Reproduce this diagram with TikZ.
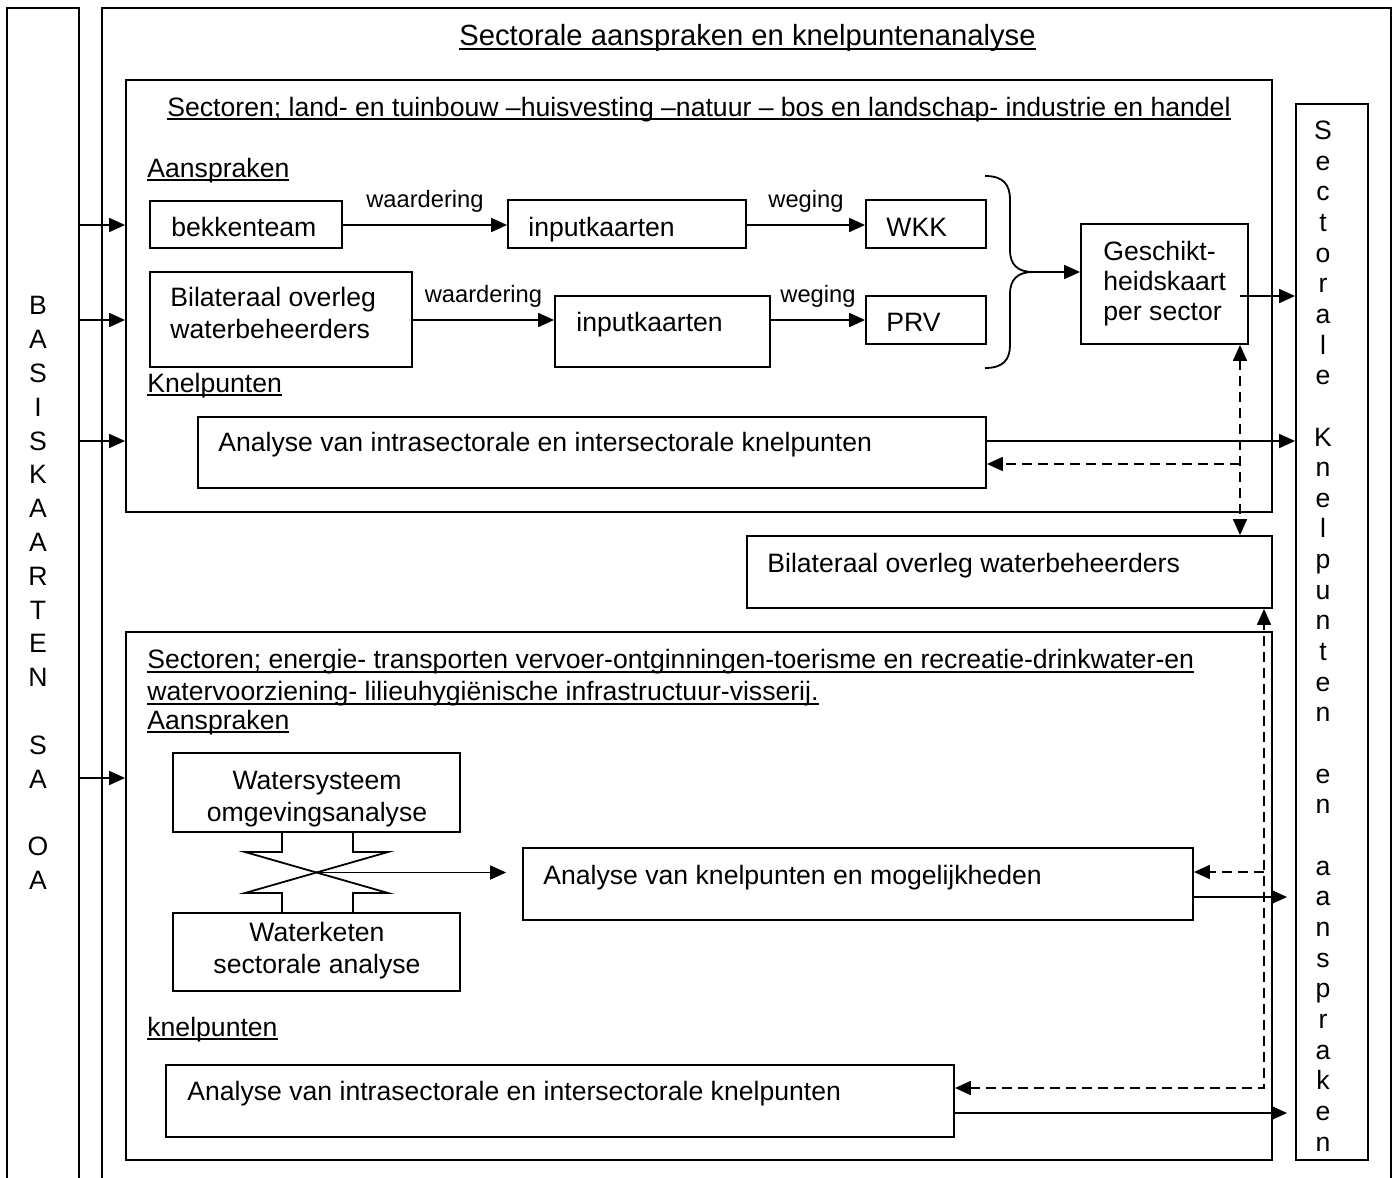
\documentclass[tikz,border=0pt]{standalone}
\usepackage{fontspec}
\setmainfont{Liberation Sans}
\usetikzlibrary{arrows.meta, fit, calc}
\newcommand\undl[1]{\setbox0=\hbox{#1}\rlap{\rule[-2pt]{\wd0}{0.8pt}}\box0}

\begin{document}
\begin{tikzpicture}[x=0.5pt, y=-0.5pt,
    >={Triangle[length=8pt, width=7pt]},
    box/.style={draw, line width=0.9pt, inner sep=0pt},
    txt/.style={font=\fontsize{13.3}{16}\selectfont, inner sep=0pt, align=left},
    ttl/.style={font=\fontsize{14.6}{17}\selectfont, inner sep=0pt},
    lab/.style={font=\fontsize{11.85}{14}\selectfont, inner sep=0pt},
    col/.style={font=\fontsize{13.3}{#1}\selectfont, inner sep=0pt, align=center},
    arr/.style={->, line width=0.9pt},
    darr/.style={->, line width=0.9pt, dash pattern=on 5pt off 3pt},
    stroke/.style={line width=0.9pt}
  ]
  \useasboundingbox (0,0) rectangle (1393,1178);

  % rows of the connectors
  \coordinate (r1) at (0,225);
  \coordinate (r2) at (0,296);
  \coordinate (r3) at (0,320);
  \coordinate (r4) at (0,441);
  \coordinate (r5) at (0,464);
  \coordinate (r6) at (0,778);
  \coordinate (r7) at (0,872);
  \coordinate (r8) at (0,897);
  \coordinate (r9) at (0,1088);
  \coordinate (r10) at (0,1113);
  \coordinate (dx1) at (1240,0);
  \coordinate (dx2) at (1264,0);

  % frames, open at the bottom
  \node[box, fit={(7,8) (79,1200)}] (basis) {};
  \node[box, fit={(102,8) (1391,1200)}] (frame) {};
  \node[box, fit={(126,80) (1272,512)}] (sec1) {};
  \node[box, fit={(126,632) (1272,1160)}] (sec2) {};
  \node[box, fit={(1296,104) (1368,1160)}] (sak) {};

  \node[col=16.9] (basist) at (38,593) {B\\A\\S\\I\\S\\K\\A\\A\\R\\T\\E\\N\\~\\S\\A\\~\\O\\A};
  \node[col=15.33] (sakt) at (1323,636) {S\\e\\c\\t\\o\\r\\a\\l\\e\\~\\K\\n\\e\\l\\p\\u\\n\\t\\e\\n\\~\\e\\n\\~\\a\\a\\n\\s\\p\\r\\a\\k\\e\\n};

  \node[ttl, anchor=base] (title) at (747.5,46) {\undl{Sectorale aanspraken en knelpuntenanalyse}};

  % upper sectors
  \node[txt, anchor=base west] (sec1t) at (167,116) {\undl{Sectoren; land- en tuinbouw –huisvesting –natuur – bos en landschap- industrie en handel}};
  \node[txt, anchor=base west] (asp1) at (147,177) {\undl{Aanspraken}};

  \node[box, fit={(150,201) (342,248)}] (bek) {};
  \node[txt, anchor=base west] (bekt) at (171,236) {bekkenteam};
  \node[box, fit={(508,200) (746,248)}] (ink1) {};
  \node[txt, anchor=base west] (ink1t) at (528,236) {inputkaarten};
  \node[box, fit={(866,200) (986,248)}] (wkk) {};
  \node[txt, anchor=base west] (wkkt) at (886,236) {WKK};

  \node[box, fit={(150,272) (412,367)}] (bil1) {};
  \node[txt, anchor=west] (bil1t) at (170,313) {Bilateraal overleg\\waterbeheerders};
  \node[box, fit={(555,296) (770,367)}] (ink2) {};
  \node[txt, anchor=base west] (ink2t) at (576,331) {inputkaarten};
  \node[box, fit={(866,296) (986,344)}] (prv) {};
  \node[txt, anchor=base west] (prvt) at (886,331) {PRV};

  \node[box, fit={(1081,224) (1248,344)}] (gesch) {};
  \node[txt, anchor=west, font=\fontsize{13.3}{15}\selectfont] (gescht) at (1103,284) {Geschikt-\\heidskaart\\per sector};

  \node[txt, anchor=base west] (knp1) at (147,392) {\undl{Knelpunten}};
  \node[box, fit={(198,417) (986,488)}] (ana1) {};
  \node[txt, anchor=base west] (ana1t) at (218,451) {Analyse van intrasectorale en intersectorale knelpunten};

  \node[box, fit={(747,536) (1272,608)}] (bil2) {};
  \node[txt, anchor=base west] (bil2t) at (767,572) {Bilateraal overleg waterbeheerders};

  % lower sectors
  \node[txt, anchor=west] (sec2t) at (147,678) {\undl{Sectoren; energie- transporten vervoer-ontginningen-toerisme en recreatie-drinkwater-en}\\\undl{watervoorziening- lilieuhygiënische infrastructuur-visserij.}};
  \node[txt, anchor=base west] (asp2) at (147,729) {\undl{Aanspraken}};

  \node[box, fit={(173,753) (460,832)}] (wsys) {};
  \node[txt, align=center] (wsyst) at (317,799) {Watersysteem\\omgevingsanalyse};
  \node[box, fit={(173,913) (460,991)}] (wket) {};
  \node[txt, align=center] (wkett) at (317,951) {Waterketen\\sectorale analyse};

  \node[box, fit={(523,848) (1193,920)}] (ana2) {};
  \node[txt, anchor=base west] (ana2t) at (543,884) {Analyse van knelpunten en mogelijkheden};

  \node[txt, anchor=base west] (knp2) at (147,1036) {\undl{knelpunten}};
  \node[box, fit={(166,1065) (954,1137)}] (ana3) {};
  \node[txt, anchor=base west] (ana3t) at (187,1100) {Analyse van intrasectorale en intersectorale knelpunten};

  % connectors
  \foreach \r/\b in {r1/sec1, r3/sec1, r4/sec1, r6/sec2}
    \draw[arr] (basis.east |- \r) -- (\b.west |- \r);

  \draw[arr] (bek.east |- r1) -- node[lab, above=6pt] (w1) {waardering} (ink1.west |- r1);
  \draw[arr] (ink1.east |- r1) -- node[lab, above=6pt] (g1) {weging} (wkk.west |- r1);
  \draw[arr] (bil1.east |- r3) -- node[lab, above=6pt] (w2) {waardering} (ink2.west |- r3);
  \draw[arr] (ink2.east |- r3) -- node[lab, above=6pt] (g2) {weging} (prv.west |- r3);

  \coordinate (brtip) at (1033,272);
  \draw[stroke] (985,176) .. controls (1003,176) and (1010,184) .. (1010,200) -- (1010,250)
    .. controls (1010,265) and (1018,272) .. (brtip)
    .. controls (1018,272) and (1010,279) .. (1010,294) -- (1010,345)
    .. controls (1010,360) and (1003,368) .. (985,368);
  \draw[arr] (brtip) -- (gesch.west |- brtip);

  \draw[arr] ($(gesch.east |- r2)+(-9,0)$) -- (sak.west |- r2);
  \draw[arr] (ana1.east |- r4) -- (sak.west |- r4);
  \draw[darr, <->] (gesch.south -| dx1) -- (bil2.north -| dx1);
  \draw[darr] (dx1 |- r5) -- (ana1.east |- r5);

  \draw[stroke] (282,832) -- (282,852) -- (245,852) -- (388,893) -- (353,893) -- (353,913);
  \draw[stroke] (353,832) -- (353,852) -- (388,852) -- (245,893) -- (282,893) -- (282,913);
  \coordinate (cross) at (316.5,872.5);
  \draw[arr, shorten >=8pt] (cross) -- (ana2.west |- cross);

  \draw[darr, <->] (ana3.east |- r9) -| (bil2.south -| dx2);
  \draw[darr] (dx2 |- r7) -- (ana2.east |- r7);
  \draw[arr, shorten >=4pt] (ana2.east |- r8) -- (sak.west |- r8);
  \draw[arr, shorten >=4pt] (ana3.east |- r10) -- (sak.west |- r10);
\end{tikzpicture}
\end{document}
